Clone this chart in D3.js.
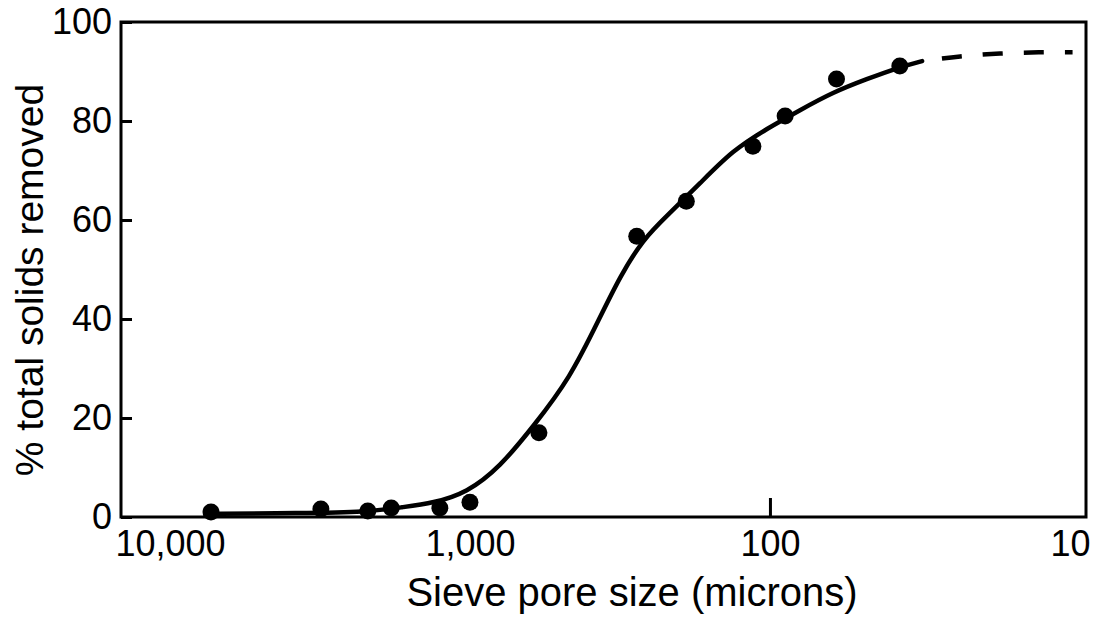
<!DOCTYPE html>
<html>
<head>
<meta charset="utf-8">
<script src="https://cdn.jsdelivr.net/npm/d3@7/dist/d3.min.js"></script>
<style>
  html, body { margin: 0; padding: 0; background: #fff; }
  svg { display: block; }
  text { font-family: "Liberation Sans", Arial, Helvetica, sans-serif; fill: #000; }
</style>
</head>
<body>
<svg id="chart" width="1109" height="624"></svg>
<script>
// ---- data ----
const poreSize = [7300, 3140, 2190, 1830, 1260, 1000, 589, 278, 190, 114, 89, 60, 36.9];
const removed  = [1.0, 1.6, 1.2, 1.8, 1.8, 3.0, 17.0, 56.7, 63.8, 74.9, 81.0, 88.5, 91.1];

const fitSize   = [7640, 3690, 2205, 1672, 1328, 1023, 794, 617, 464, 369, 316, 265, 220, 171, 133, 102, 79.4, 61.7, 47.5, 36.9, 31.1];
const fitValue  = [0.6, 0.8, 1.0, 2.0, 2.8, 4.9, 10.1, 18.2, 28.0, 40.3, 48.6, 56.1, 60.9, 67.4, 74.1, 78.5, 82.2, 85.8, 88.5, 90.9, 92.1];

const extSize   = [31.1, 23.3, 17.1, 12.6, 9.8];
const extValue  = [92.1, 93.1, 93.7, 93.9, 93.9];

const xTickValues = [10000, 1000, 100, 10];
const xTickLabels = ["10,000", "1,000", "100", "10"];
const yTickValues = [0, 20, 40, 60, 80, 100];

const xTitle = "Sieve pore size (microns)";
const yTitle = "% total solids removed";

// ---- layout ----
const svg = d3.select("#chart");
const mLeft = 121, mRight = 1086, mTop = 22, mBottom = 517;

const x = d3.scaleLog().domain([14563, 8.84]).range([mLeft, mRight]);
const y = d3.scaleLinear().domain([0, 100]).range([mBottom, mTop]);

// frame
svg.append("rect")
  .attr("x", mLeft).attr("y", mTop)
  .attr("width", mRight - mLeft).attr("height", mBottom - mTop)
  .attr("fill", "none").attr("stroke", "#000").attr("stroke-width", 3);

// y axis (inward ticks)
const yAxis = d3.axisLeft(y).tickValues(yTickValues).tickSize(-11).tickPadding(20);
const gy = svg.append("g").attr("transform", `translate(${mLeft},0)`).call(yAxis);
gy.select(".domain").remove();
gy.selectAll(".tick line").attr("stroke", "#000").attr("stroke-width", 3);
gy.selectAll(".tick text").attr("font-size", 36).attr("x", -9)
  .style("font-family", '"Liberation Sans", Arial, sans-serif');

// x axis labels
const xAxis = d3.axisBottom(x).tickValues(xTickValues)
  .tickFormat((d, i) => xTickLabels[i]).tickSize(0).tickPadding(13);
const gx = svg.append("g").attr("transform", `translate(0,${mBottom})`).call(xAxis);
gx.select(".domain").remove();
gx.selectAll(".tick text").attr("font-size", 36)
  .style("font-family", '"Liberation Sans", Arial, sans-serif');

// single inward tick at 100
const xTickMark = d3.axisBottom(x).tickValues([100]).tickSize(-19).tickFormat("");
const gxt = svg.append("g").attr("transform", `translate(0,${mBottom})`).call(xTickMark);
gxt.select(".domain").remove();
gxt.selectAll(".tick line").attr("stroke", "#000").attr("stroke-width", 3);

// titles
svg.append("text")
  .attr("x", 632).attr("y", 606)
  .attr("text-anchor", "middle").attr("font-size", 40)
  .text(xTitle);

svg.append("text")
  .attr("transform", "translate(43,280) rotate(-90)")
  .attr("text-anchor", "middle").attr("font-size", 39)
  .text(yTitle);

// curves
const line = d3.line().x(d => x(d[0])).y(d => y(d[1])).curve(d3.curveBasis);
const fit = d3.zip(fitSize, fitValue);
const ext = d3.zip(extSize, extValue);

svg.append("path").datum(fit)
  .attr("d", line).attr("fill", "none").attr("stroke", "#000")
  .attr("stroke-width", 4.5).attr("stroke-linecap", "round").attr("stroke-linejoin", "round");

svg.append("path").datum(ext)
  .attr("d", line).attr("fill", "none").attr("stroke", "#000")
  .attr("stroke-width", 4.5).attr("stroke-dasharray", "20,21").attr("stroke-dashoffset", -20);

// points
svg.append("g").selectAll("circle")
  .data(d3.zip(poreSize, removed))
  .join("circle")
  .attr("cx", d => x(d[0])).attr("cy", d => y(d[1]))
  .attr("r", 8.5).attr("fill", "#000");
</script>
</body>
</html>
